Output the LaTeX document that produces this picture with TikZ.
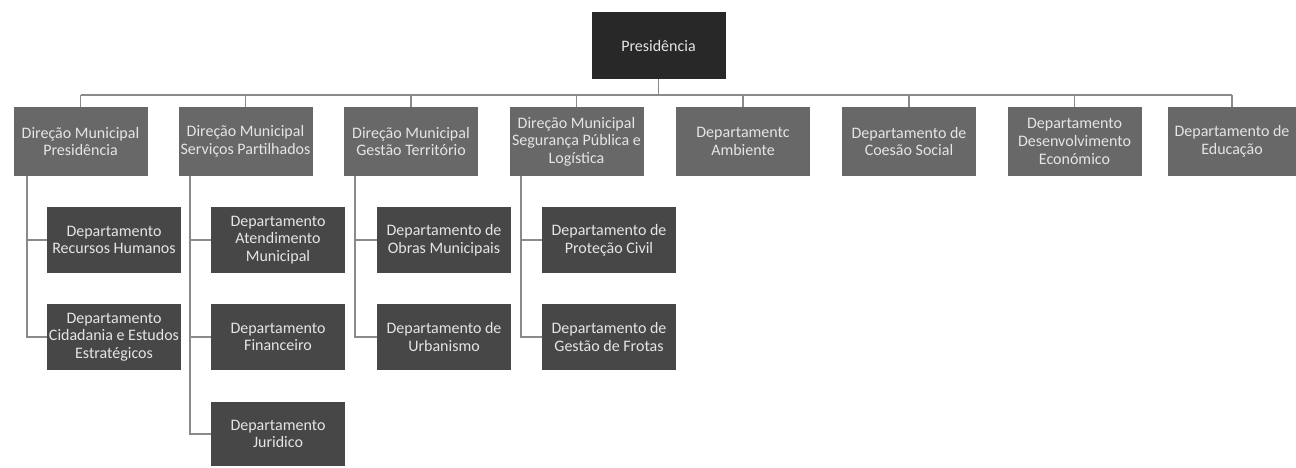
\documentclass[tikz,border=0pt]{standalone}
\usepackage{fontspec}
\setmainfont{Carlito}
\usepackage{tikz}
\definecolor{presfill}{HTML}{282828}
\definecolor{dirfill}{HTML}{686868}
\definecolor{deptfill}{HTML}{474747}
\definecolor{linegray}{HTML}{8A8A8A}
\tikzset{
  box/.style={draw=none, align=center, inner sep=0pt, font=\fontsize{8}{8.8}\selectfont, text=white!90!black},
  presbox/.style={box, fill=presfill, minimum width=67pt, minimum height=33.5pt},
  dirbox/.style={box, fill=dirfill, minimum width=67pt, minimum height=34.5pt},
  deptbox/.style={box, fill=deptfill, minimum width=67pt, minimum height=33pt},
  conn/.style={draw=linegray, line width=0.8pt},
}

\begin{document}
\begin{tikzpicture}[x=0.5pt,y=-0.5pt]
\useasboundingbox (0,0) rectangle (1296,467);
\node[presbox] (pres) at (658.5,45.5) {Presidência};
% first level
\foreach \n/\x/\t in {1/80.5/{Direção Municipal\\Presidência},
  2/245.5/{Direção Municipal\\Serviços Partilhados},
  3/411/{Direção Municipal\\Gestão Território},
  4/576.5/{Direção Municipal\\Segurança Pública e\\Logística},
  5/743/{Departamentc\\Ambiente},
  6/909/{Departamento de\\Coesão Social},
  7/1074.5/{Departamento\\Desenvolvimento\\Económico}} {
\node[dirbox] (l\n) at (\x,141.5) {\t};
}
\node[dirbox, minimum width=64pt] (l8) at (1232,141.5) {Departamento de\\Educação};
\coordinate (bus) at (0,95);
\draw[conn] (pres.south) -- (pres.south |- bus);
\draw[conn] (l1.north |- bus) -- (l8.north |- bus);
\foreach \n in {1,...,8} {
\draw[conn] (l\n.north |- bus) -- (l\n.north);
}
% second level
\node[deptbox] (d11) at (114,240) {Departamento\\Recursos Humanos};
\node[deptbox] (d12) at (114,337) {Departamento\\Cidadania e Estudos\\Estratégicos};
\node[deptbox] (d21) at (278,240) {Departamento\\Atendimento\\Municipal};
\node[deptbox] (d22) at (278,337) {Departamento\\Financeiro};
\node[deptbox, minimum height=32pt] (d23) at (278,434) {Departamento\\Juridico};
\node[deptbox] (d31) at (444,240) {Departamento de\\Obras Municipais};
\node[deptbox] (d32) at (444,337) {Departamento de\\Urbanismo};
\node[deptbox] (d41) at (609,240) {Departamento de\\Proteção Civil};
\node[deptbox] (d42) at (609,337) {Departamento de\\Gestão de Frotas};
\coordinate (v1) at (27,0);
\coordinate (v2) at (190,0);
\coordinate (v3) at (355,0);
\coordinate (v4) at (521,0);
\draw[conn] (v1 |- l1.south) |- (d12.west);
\draw[conn] (v1 |- d11.west) -- (d11.west);
\draw[conn] (v2 |- l2.south) |- (d23.west);
\draw[conn] (v2 |- d21.west) -- (d21.west);
\draw[conn] (v2 |- d22.west) -- (d22.west);
\draw[conn] (v3 |- l3.south) |- (d32.west);
\draw[conn] (v3 |- d31.west) -- (d31.west);
\draw[conn] (v4 |- l4.south) |- (d42.west);
\draw[conn] (v4 |- d41.west) -- (d41.west);
\end{tikzpicture}
\end{document}
